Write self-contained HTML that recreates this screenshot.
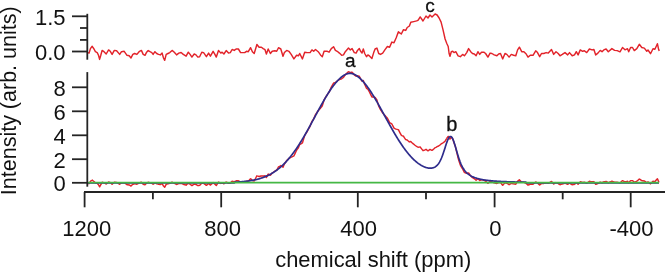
<!DOCTYPE html><html><head><meta charset="utf-8"><style>html,body{margin:0;padding:0;background:#fff;}svg{display:block;will-change:transform;}</style></head><body><svg width="665" height="273" viewBox="0 0 665 273">
<path d="M87.3,52.60 89.1,53.10 90.4,48.60 92.2,46.30 94.0,49.00 95.4,51.70 97.2,52.60 98.5,55.30 99.6,59.40 100.8,55.30 102.1,50.40 104.0,51.70 106.2,54.00 108.6,49.90 110.3,51.30 112.1,54.40 114.3,50.40 116.6,50.80 119.7,54.40 121.5,51.70 124.2,51.30 127.0,55.30 129.2,55.80 131.0,58.00 132.8,54.40 134.6,53.50 136.9,54.40 139.1,51.70 141.4,50.40 143.2,54.40 145.0,55.30 146.4,52.60 148.2,50.60 150.0,51.70 151.8,52.60 153.1,54.40 154.9,51.70 156.7,53.50 158.5,54.40 160.3,54.90 162.1,53.10 163.5,58.00 164.7,60.30 166.2,54.40 168.0,53.50 169.8,52.60 172.1,50.40 174.3,52.20 176.6,54.90 178.8,53.10 181.1,52.50 183.3,54.40 186.1,56.20 188.3,52.20 190.1,54.40 191.9,57.10 194.2,54.00 196.0,54.90 197.8,57.10 199.6,56.70 201.8,52.20 203.6,52.60 205.0,54.60 206.4,56.70 208.6,53.10 210.4,56.20 213.1,51.30 214.9,54.40 216.3,57.10 218.5,50.40 220.8,53.10 222.1,52.20 223.9,54.00 226.2,50.60 228.5,53.10 230.3,52.60 232.1,49.50 234.3,50.40 236.1,49.00 238.4,49.00 240.6,52.60 242.9,52.60 244.7,52.60 246.5,51.30 248.3,51.70 250.6,47.70 252.4,51.70 254.2,53.50 256.9,44.50 259.1,47.20 261.4,47.20 263.2,48.60 265.0,49.70 266.4,54.00 268.2,49.00 270.4,53.50 272.2,51.30 274.9,50.80 276.7,51.30 278.5,47.70 280.8,49.00 283.0,56.20 284.4,52.60 286.7,50.40 288.9,51.30 291.2,54.40 293.9,58.90 296.6,55.30 298.4,55.80 299.7,53.50 302.4,58.90 304.7,52.20 307.4,52.60 310.1,52.60 311.9,49.90 313.7,51.30 315.5,49.50 318.2,51.70 320.5,54.90 322.3,56.70 324.1,51.30 325.0,51.10 327.3,51.30 329.1,52.20 331.3,48.60 333.6,46.80 335.4,50.40 337.2,51.30 339.4,53.10 341.7,55.30 343.5,54.90 345.3,51.70 348.5,48.10 350.3,49.90 352.1,48.60 354.3,52.60 356.1,53.10 357.5,50.40 359.3,48.60 360.6,51.30 362.0,53.10 363.3,49.00 364.7,53.50 366.5,56.70 367.9,54.90 369.7,56.20 371.9,58.50 373.7,52.60 375.1,49.00 376.9,48.10 378.7,53.50 380.5,54.40 382.7,53.10 385.2,49.40 387.4,46.50 389.6,47.20 391.8,42.10 394.0,42.80 396.2,37.70 398.4,31.80 401.3,34.00 403.5,29.70 405.7,30.40 407.2,27.50 409.4,26.00 410.8,22.30 413.8,21.60 416.7,20.90 418.2,20.10 420.2,16.90 423.0,21.00 426.0,16.00 428.0,18.00 430.0,15.00 432.0,17.00 435.1,14.00 437.1,15.00 439.1,18.00 441.1,22.10 443.1,30.10 445.1,39.00 446.8,43.50 448.2,46.50 449.1,53.50 450.0,56.20 451.3,51.70 452.7,51.30 454.0,52.60 455.8,51.70 458.1,55.80 460.3,56.70 462.6,54.40 464.4,55.80 466.7,52.60 468.6,48.60 470.7,51.70 472.5,53.50 474.3,54.00 476.1,55.80 477.9,51.70 479.7,54.40 481.5,52.20 483.8,52.20 485.6,53.50 487.9,57.10 490.1,53.10 491.9,53.50 494.2,54.90 496.9,55.80 498.7,54.00 500.5,53.50 502.7,58.90 505.0,53.50 506.8,54.40 509.1,57.10 511.3,54.40 513.6,55.30 515.8,55.80 517.6,49.90 519.4,47.20 521.7,51.70 523.9,51.70 526.2,54.00 528.0,57.10 530.3,55.30 533.0,55.30 535.7,50.80 537.5,52.60 539.7,56.70 541.5,53.50 543.8,53.50 546.1,52.60 548.3,53.10 551.5,49.50 553.7,54.40 556.0,51.70 558.2,53.50 560.0,55.80 562.3,54.40 565.0,52.60 567.7,54.90 569.5,52.60 572.2,55.80 574.5,54.90 576.3,51.70 578.1,54.90 580.3,49.90 582.6,51.30 584.4,50.80 586.7,52.60 589.4,49.00 592.1,49.90 593.9,49.50 595.7,54.90 597.9,53.10 600.2,50.40 602.0,51.70 603.8,49.90 606.1,49.00 608.3,51.70 611.9,48.60 614.6,50.40 617.2,50.60 620.0,51.80 622.5,47.50 625.0,49.80 627.5,48.70 628.7,51.80 630.6,47.50 632.5,47.50 634.3,50.60 636.8,48.70 639.3,44.30 641.8,47.50 644.3,48.10 646.8,51.20 648.0,50.00 650.5,53.70 653.0,48.70 654.9,49.30 657.4,43.70 658.6,49.30 659.2,51.00" fill="none" stroke="#e2232a" stroke-width="1.45" stroke-linejoin="round"/>
<path d="M87.3,183.34 88.0,183.44 89.0,183.58 89.1,183.59 90.0,181.99 90.4,181.28 91.0,180.89 92.0,180.24 92.2,180.10 93.0,180.72 94.0,181.49 95.0,182.48 95.4,182.87 96.0,183.03 97.0,183.28 97.2,183.33 98.0,184.19 98.5,184.72 99.0,185.67 99.6,186.82 100.0,186.12 100.8,184.72 101.0,184.33 102.0,182.40 102.1,182.20 103.0,182.52 104.0,182.87 105.0,183.41 106.0,183.94 106.2,184.05 107.0,183.35 108.0,182.47 108.6,181.95 109.0,182.12 110.0,182.54 110.3,182.66 111.0,183.28 112.0,184.17 112.1,184.25 113.0,183.41 114.0,182.48 114.3,182.20 115.0,182.26 116.0,182.35 116.6,182.41 117.0,182.65 118.0,183.24 119.0,183.84 119.7,184.25 120.0,184.02 121.0,183.25 121.5,182.87 122.0,182.83 123.0,182.75 124.0,182.68 124.2,182.66 125.0,183.25 126.0,183.98 127.0,184.71 128.0,184.83 129.0,184.95 129.2,184.97 130.0,185.47 131.0,186.10 132.0,185.07 132.8,184.25 133.0,184.20 134.0,183.94 134.6,183.79 135.0,183.87 136.0,184.07 136.9,184.25 137.0,184.19 138.0,183.56 139.0,182.93 139.1,182.86 140.0,182.60 141.0,182.31 141.4,182.20 142.0,182.88 143.0,184.02 143.2,184.25 144.0,184.45 145.0,184.71 146.0,183.72 146.4,183.32 147.0,182.98 148.0,182.41 148.2,182.30 149.0,182.55 150.0,182.86 151.0,183.12 151.8,183.32 152.0,183.46 153.0,184.17 153.1,184.24 154.0,183.55 154.9,182.86 155.0,182.91 156.0,183.42 156.7,183.78 157.0,183.86 158.0,184.11 158.5,184.24 159.0,184.31 160.0,184.46 160.3,184.50 161.0,184.14 162.0,183.63 162.1,183.57 163.0,185.19 163.5,186.09 164.0,186.58 164.7,187.27 165.0,186.66 166.0,184.64 166.2,184.24 167.0,184.03 168.0,183.78 169.0,183.52 169.8,183.32 170.0,183.22 171.0,182.73 172.0,182.24 172.1,182.19 173.0,182.56 174.0,182.98 174.3,183.11 175.0,183.53 176.0,184.13 176.6,184.49 177.0,184.32 178.0,183.90 178.8,183.57 179.0,183.54 180.0,183.41 181.0,183.27 181.1,183.26 182.0,183.66 183.0,184.10 183.3,184.23 184.0,184.46 185.0,184.79 186.0,185.12 186.1,185.15 187.0,184.31 188.0,183.38 188.3,183.10 189.0,183.54 190.0,184.16 190.1,184.23 191.0,184.92 191.9,185.61 192.0,185.54 193.0,184.85 194.0,184.16 194.2,184.02 195.0,184.22 196.0,184.48 197.0,185.10 197.8,185.60 198.0,185.58 199.0,185.46 199.6,185.39 200.0,184.97 201.0,183.92 201.8,183.08 202.0,183.10 203.0,183.21 203.6,183.28 204.0,183.57 205.0,184.30 206.0,185.07 206.4,185.37 207.0,184.87 208.0,184.03 208.6,183.52 209.0,183.87 210.0,184.75 210.4,185.10 211.0,184.54 212.0,183.60 213.0,182.66 213.1,182.57 214.0,183.36 214.9,184.15 215.0,184.24 216.0,185.22 216.3,185.52 217.0,184.42 218.0,182.85 218.5,182.06 219.0,182.35 220.0,182.94 220.8,183.41 221.0,183.34 222.0,182.97 222.1,182.93 223.0,183.38 223.9,183.82 224.0,183.75 225.0,182.97 226.0,182.19 226.2,182.03 227.0,182.46 228.0,182.99 228.5,183.25 229.0,183.17 230.0,182.99 230.3,182.94 231.0,182.30 232.0,181.38 232.1,181.29 233.0,181.44 234.0,181.60 234.3,181.65 235.0,181.34 236.0,180.89 236.1,180.84 237.0,180.79 238.0,180.73 238.4,180.70 239.0,181.17 240.0,181.94 240.6,182.39 241.0,182.36 242.0,182.28 242.9,182.20 243.0,182.19 244.0,182.09 244.7,182.01 245.0,181.87 246.0,181.39 246.5,181.14 247.0,181.14 248.0,181.12 248.3,181.11 249.0,180.39 250.0,179.34 250.6,178.71 251.0,179.10 252.0,180.07 252.4,180.45 253.0,180.64 254.0,180.96 254.2,181.02 255.0,179.48 256.0,177.54 256.9,175.78 257.0,175.82 258.0,176.19 259.0,176.54 259.1,176.58 260.0,176.31 261.0,176.00 261.4,175.87 262.0,175.91 263.0,175.96 263.2,175.96 264.0,175.91 265.0,175.83 266.0,176.99 266.4,177.45 267.0,176.32 268.0,174.43 268.2,174.05 269.0,174.49 270.0,175.02 270.4,175.23 271.0,174.52 272.0,173.32 272.2,173.08 273.0,172.51 274.0,171.79 274.9,171.10 275.0,171.05 276.0,170.49 276.7,170.09 277.0,169.56 278.0,167.77 278.5,166.86 279.0,166.60 280.0,166.06 280.8,165.60 281.0,165.76 282.0,166.53 283.0,167.27 284.0,164.97 284.4,164.04 285.0,163.14 286.0,161.59 286.7,160.49 287.0,160.22 288.0,159.30 288.9,158.44 289.0,158.39 290.0,157.87 291.0,157.31 291.2,157.20 292.0,156.85 293.0,156.38 293.9,155.93 294.0,155.72 295.0,153.64 296.0,151.52 296.6,150.23 297.0,149.69 298.0,148.33 298.4,147.77 299.0,146.30 299.7,144.56 300.0,144.40 301.0,143.81 302.0,143.20 302.4,142.95 303.0,141.05 304.0,137.86 304.7,135.61 305.0,135.12 306.0,133.45 307.0,131.76 307.4,131.08 308.0,130.00 309.0,128.20 310.0,126.38 310.1,126.19 311.0,123.85 311.9,121.50 312.0,121.35 313.0,119.90 313.7,118.88 314.0,118.17 315.0,115.80 315.5,114.61 316.0,113.89 317.0,112.45 318.0,111.02 318.2,110.74 319.0,109.84 320.0,108.72 320.5,108.17 321.0,107.53 322.0,106.25 322.3,105.87 323.0,103.56 324.0,100.28 324.1,99.95 325.0,98.31 326.0,96.67 327.0,95.07 327.3,94.60 328.0,93.66 329.0,92.35 329.1,92.22 330.0,90.10 331.0,87.79 331.3,87.10 332.0,85.83 333.0,84.06 333.6,83.02 334.0,82.92 335.0,82.68 335.4,82.61 336.0,82.05 337.0,81.17 337.2,81.00 338.0,80.49 339.0,79.90 339.4,79.69 340.0,79.42 341.0,79.04 341.7,78.82 342.0,78.55 343.0,77.71 343.5,77.32 344.0,76.55 345.0,75.08 345.3,74.65 346.0,73.92 347.0,72.97 348.0,72.11 348.5,71.73 349.0,71.91 350.0,72.37 350.3,72.53 351.0,72.33 352.0,72.14 352.1,72.13 353.0,73.23 354.0,74.55 354.3,74.97 355.0,75.42 356.0,76.13 356.1,76.21 357.0,75.91 357.5,75.77 358.0,75.88 359.0,76.17 359.3,76.27 360.0,77.64 360.6,78.83 361.0,79.48 362.0,81.15 363.0,80.60 363.3,80.45 364.0,82.41 364.7,84.39 365.0,85.03 366.0,87.19 366.5,88.30 367.0,88.63 367.9,89.27 368.0,89.44 369.0,91.23 369.7,92.51 370.0,93.12 371.0,95.17 371.9,97.05 372.0,97.04 373.0,96.96 373.7,96.92 374.0,97.02 375.0,97.37 375.1,97.41 376.0,98.71 376.9,100.03 377.0,100.36 378.0,103.65 378.7,105.97 379.0,106.58 380.0,108.63 380.5,109.66 381.0,110.41 382.0,111.93 382.7,113.00 383.0,113.32 384.0,114.39 385.0,115.46 385.2,115.68 386.0,116.61 387.0,117.76 387.4,118.22 388.0,119.41 389.0,121.38 389.6,122.56 390.0,122.80 391.0,123.40 391.8,123.86 392.0,124.25 393.0,126.16 394.0,128.05 395.0,128.56 396.0,129.04 396.2,129.14 397.0,129.35 398.0,129.59 398.4,129.68 399.0,130.86 400.0,132.80 401.0,134.70 401.3,135.27 402.0,135.60 403.0,136.04 403.5,136.24 404.0,137.02 405.0,138.54 405.7,139.59 406.0,139.68 407.0,139.97 407.2,140.02 408.0,140.73 409.0,141.57 409.4,141.90 410.0,141.77 410.8,141.57 411.0,141.76 412.0,142.70 413.0,143.59 413.8,144.28 414.0,144.44 415.0,145.24 416.0,145.98 416.7,146.48 417.0,146.64 418.0,147.14 418.2,147.23 419.0,147.15 420.0,147.00 420.2,146.97 421.0,148.06 422.0,149.38 423.0,150.65 424.0,150.25 425.0,149.80 426.0,149.28 427.0,150.07 428.0,150.80 429.0,150.17 430.0,149.46 431.0,149.95 432.0,150.34 433.0,149.62 434.0,148.78 435.0,147.79 435.1,147.68 436.0,147.30 437.0,146.69 437.1,146.61 438.0,146.29 439.0,145.67 439.1,145.59 440.0,144.98 441.0,143.98 441.1,143.86 442.0,143.52 443.0,142.85 443.1,142.76 444.0,142.11 445.0,141.25 445.1,141.17 446.0,139.57 446.8,138.30 447.0,137.96 448.0,136.59 448.2,136.39 449.0,138.20 449.1,138.46 450.0,139.03 451.0,137.28 451.3,136.94 452.0,137.64 452.7,138.78 453.0,139.59 454.0,142.72 455.0,145.59 455.8,148.10 456.0,148.98 457.0,153.36 458.0,157.64 458.1,158.06 459.0,161.06 460.0,164.10 460.3,164.95 461.0,166.30 462.0,167.96 462.6,168.80 463.0,169.66 464.0,171.64 464.4,172.36 465.0,172.71 466.0,173.14 466.7,173.35 467.0,173.31 468.0,173.08 468.6,172.89 469.0,173.48 470.0,174.89 470.7,175.83 471.0,176.15 472.0,177.19 472.5,177.68 473.0,177.98 474.0,178.54 474.3,178.70 475.0,179.32 476.0,180.18 476.1,180.26 477.0,179.49 477.9,178.70 478.0,178.80 479.0,179.83 479.7,180.54 480.0,180.42 481.0,180.01 481.5,179.80 482.0,179.89 483.0,180.08 483.8,180.21 484.0,180.32 485.0,180.85 485.6,181.16 486.0,181.54 487.0,182.47 487.9,183.31 488.0,183.23 489.0,182.41 490.0,181.58 490.1,181.50 491.0,181.69 491.9,181.88 492.0,181.92 493.0,182.32 494.0,182.71 494.2,182.79 495.0,182.99 496.0,183.23 496.9,183.44 497.0,183.40 498.0,182.95 498.7,182.63 499.0,182.61 500.0,182.52 500.5,182.48 501.0,183.13 502.0,184.44 502.7,185.35 503.0,185.01 504.0,183.85 505.0,182.68 506.0,182.98 506.8,183.22 507.0,183.34 508.0,183.98 509.0,184.62 509.1,184.68 510.0,184.14 511.0,183.55 511.3,183.37 512.0,183.53 513.0,183.76 513.6,183.89 514.0,183.95 515.0,184.09 515.8,184.20 516.0,183.87 517.0,182.22 517.6,181.22 518.0,180.92 519.0,180.17 519.4,179.87 520.0,180.49 521.0,181.51 521.7,182.23 522.0,182.23 523.0,182.25 523.9,182.27 524.0,182.32 525.0,182.85 526.0,183.38 526.2,183.48 527.0,184.20 528.0,185.10 529.0,184.71 530.0,184.32 530.3,184.21 531.0,184.22 532.0,184.23 533.0,184.24 534.0,183.40 535.0,182.56 535.7,181.97 536.0,182.12 537.0,182.65 537.5,182.91 538.0,183.39 539.0,184.36 539.7,185.03 540.0,184.76 541.0,183.86 541.5,183.41 542.0,183.41 543.0,183.42 543.8,183.43 544.0,183.39 545.0,183.20 546.0,183.00 546.1,182.99 547.0,183.10 548.0,183.22 548.3,183.26 549.0,182.86 550.0,182.29 551.0,181.72 551.5,181.43 552.0,182.01 553.0,183.16 553.7,183.96 554.0,183.78 555.0,183.19 556.0,182.59 557.0,183.02 558.0,183.44 558.2,183.53 559.0,184.05 560.0,184.72 561.0,184.41 562.0,184.10 562.3,184.01 563.0,183.77 564.0,183.44 565.0,183.10 566.0,183.54 567.0,183.98 567.7,184.29 568.0,184.09 569.0,183.44 569.5,183.12 570.0,183.42 571.0,184.04 572.0,184.65 572.2,184.77 573.0,184.61 574.0,184.42 574.5,184.32 575.0,183.86 576.0,182.95 576.3,182.68 577.0,183.32 578.0,184.24 578.1,184.33 579.0,183.28 580.0,182.12 580.3,181.77 581.0,181.99 582.0,182.31 582.6,182.50 583.0,182.44 584.0,182.30 584.4,182.25 585.0,182.49 586.0,182.89 586.7,183.18 587.0,182.97 588.0,182.29 589.0,181.61 589.4,181.34 590.0,181.44 591.0,181.61 592.0,181.79 592.1,181.81 593.0,181.70 593.9,181.60 594.0,181.76 595.0,183.30 595.7,184.38 596.0,184.25 597.0,183.84 597.9,183.46 598.0,183.40 599.0,182.80 600.0,182.20 600.2,182.08 601.0,182.38 602.0,182.75 603.0,182.24 603.8,181.83 604.0,181.79 605.0,181.59 606.0,181.39 606.1,181.37 607.0,181.94 608.0,182.57 608.3,182.76 609.0,182.45 610.0,182.01 611.0,181.57 611.9,181.18 612.0,181.21 613.0,181.56 614.0,181.90 614.6,182.11 615.0,182.12 616.0,182.16 617.0,182.20 617.2,182.21 618.0,182.39 619.0,182.61 620.0,182.83 621.0,181.95 622.0,181.07 622.5,180.63 623.0,180.87 624.0,181.34 625.0,181.81 626.0,181.59 627.0,181.36 627.5,181.25 628.0,181.91 628.7,182.84 629.0,182.50 630.0,181.34 630.6,180.64 631.0,180.64 632.0,180.64 632.5,180.64 633.0,181.08 634.0,181.97 634.3,182.23 635.0,181.96 636.0,181.57 636.8,181.26 637.0,181.08 638.0,180.18 639.0,179.28 639.3,179.01 640.0,179.47 641.0,180.13 641.8,180.65 642.0,180.68 643.0,180.80 644.0,180.93 644.3,180.96 645.0,181.41 646.0,182.05 646.8,182.55 647.0,182.45 648.0,181.94 649.0,182.70 650.0,183.46 650.5,183.84 651.0,183.33 652.0,182.30 653.0,181.28 654.0,181.44 654.9,181.59 655.0,181.47 656.0,180.32 657.0,179.18 657.4,178.72 658.0,180.15 658.6,181.59 659.0,182.17 659.2,182.46" fill="none" stroke="#e2232a" stroke-width="1.45" stroke-linejoin="round"/>
<path d="M88.0,182.80 88.5,182.80 89.0,182.80 89.5,182.80 90.0,182.80 90.5,182.80 91.0,182.80 91.5,182.80 92.0,182.80 92.5,182.80 93.0,182.80 93.5,182.80 94.0,182.80 94.5,182.80 95.0,182.80 95.5,182.80 96.0,182.80 96.5,182.80 97.0,182.80 97.5,182.80 98.0,182.80 98.5,182.80 99.0,182.80 99.5,182.80 100.0,182.80 100.5,182.80 101.0,182.80 101.5,182.80 102.0,182.80 102.5,182.80 103.0,182.80 103.5,182.80 104.0,182.80 104.5,182.80 105.0,182.80 105.5,182.80 106.0,182.80 106.5,182.80 107.0,182.80 107.5,182.80 108.0,182.80 108.5,182.80 109.0,182.80 109.5,182.80 110.0,182.80 110.5,182.80 111.0,182.80 111.5,182.80 112.0,182.80 112.5,182.80 113.0,182.80 113.5,182.80 114.0,182.80 114.5,182.80 115.0,182.80 115.5,182.80 116.0,182.80 116.5,182.80 117.0,182.80 117.5,182.80 118.0,182.80 118.5,182.80 119.0,182.80 119.5,182.80 120.0,182.80 120.5,182.80 121.0,182.80 121.5,182.80 122.0,182.80 122.5,182.80 123.0,182.80 123.5,182.80 124.0,182.80 124.5,182.80 125.0,182.80 125.5,182.80 126.0,182.80 126.5,182.80 127.0,182.80 127.5,182.80 128.0,182.80 128.5,182.80 129.0,182.80 129.5,182.80 130.0,182.80 130.5,182.80 131.0,182.80 131.5,182.80 132.0,182.80 132.5,182.80 133.0,182.80 133.5,182.80 134.0,182.80 134.5,182.80 135.0,182.80 135.5,182.80 136.0,182.80 136.5,182.80 137.0,182.80 137.5,182.80 138.0,182.80 138.5,182.80 139.0,182.80 139.5,182.80 140.0,182.80 140.5,182.80 141.0,182.80 141.5,182.80 142.0,182.80 142.5,182.80 143.0,182.80 143.5,182.80 144.0,182.80 144.5,182.80 145.0,182.80 145.5,182.80 146.0,182.80 146.5,182.80 147.0,182.80 147.5,182.80 148.0,182.80 148.5,182.80 149.0,182.80 149.5,182.80 150.0,182.80 150.5,182.80 151.0,182.80 151.5,182.80 152.0,182.80 152.5,182.80 153.0,182.80 153.5,182.80 154.0,182.80 154.5,182.80 155.0,182.80 155.5,182.80 156.0,182.80 156.5,182.80 157.0,182.80 157.5,182.80 158.0,182.80 158.5,182.80 159.0,182.80 159.5,182.80 160.0,182.80 160.5,182.80 161.0,182.80 161.5,182.80 162.0,182.80 162.5,182.80 163.0,182.80 163.5,182.80 164.0,182.80 164.5,182.80 165.0,182.80 165.5,182.80 166.0,182.80 166.5,182.80 167.0,182.80 167.5,182.80 168.0,182.80 168.5,182.80 169.0,182.80 169.5,182.80 170.0,182.80 170.5,182.80 171.0,182.80 171.5,182.80 172.0,182.80 172.5,182.80 173.0,182.80 173.5,182.80 174.0,182.80 174.5,182.80 175.0,182.80 175.5,182.80 176.0,182.80 176.5,182.80 177.0,182.80 177.5,182.80 178.0,182.80 178.5,182.80 179.0,182.80 179.5,182.80 180.0,182.80 180.5,182.80 181.0,182.80 181.5,182.80 182.0,182.80 182.5,182.80 183.0,182.80 183.5,182.80 184.0,182.80 184.5,182.80 185.0,182.80 185.5,182.80 186.0,182.80 186.5,182.80 187.0,182.80 187.5,182.80 188.0,182.80 188.5,182.80 189.0,182.80 189.5,182.80 190.0,182.80 190.5,182.80 191.0,182.80 191.5,182.80 192.0,182.80 192.5,182.80 193.0,182.80 193.5,182.80 194.0,182.80 194.5,182.80 195.0,182.80 195.5,182.80 196.0,182.80 196.5,182.80 197.0,182.80 197.5,182.80 198.0,182.80 198.5,182.80 199.0,182.80 199.5,182.80 200.0,182.80 200.5,182.80 201.0,182.80 201.5,182.80 202.0,182.80 202.5,182.80 203.0,182.80 203.5,182.80 204.0,182.80 204.5,182.80 205.0,182.80 205.5,182.80 206.0,182.80 206.5,182.80 207.0,182.80 207.5,182.80 208.0,182.80 208.5,182.80 209.0,182.80 209.5,182.80 210.0,182.80 210.5,182.80 211.0,182.80 211.5,182.80 212.0,182.80 212.5,182.80 213.0,182.80 213.5,182.80 214.0,182.80 214.5,182.80 215.0,182.80 215.5,182.80 216.0,182.80 216.5,182.80 217.0,182.80 217.5,182.80 218.0,182.80 218.5,182.80 219.0,182.80 219.5,182.80 220.0,182.80 220.5,182.80 221.0,182.80 221.5,182.80 222.0,182.80 222.5,182.80 223.0,182.80 223.5,182.80 224.0,182.80 224.5,182.80 225.0,182.80 225.5,182.80 226.0,182.80 226.5,182.80 227.0,182.80 227.5,182.80 228.0,182.80 228.5,182.80 229.0,182.80 229.5,182.80 230.0,182.80 230.5,182.80 231.0,182.80 231.5,182.80 232.0,182.80 232.5,182.80 233.0,182.80 233.5,182.80 234.0,182.80 234.5,182.80 235.0,182.18 235.5,182.16 236.0,182.13 236.5,182.10 237.0,182.07 237.5,182.04 238.0,182.01 238.5,181.98 239.0,181.95 239.5,181.91 240.0,181.87 240.5,181.84 241.0,181.80 241.5,181.76 242.0,181.71 242.5,181.67 243.0,181.62 243.5,181.57 244.0,181.52 244.5,181.47 245.0,181.42 245.5,181.36 246.0,181.30 246.5,181.24 247.0,181.18 247.5,181.12 248.0,181.05 248.5,180.98 249.0,180.91 249.5,180.83 250.0,180.76 250.5,180.68 251.0,180.59 251.5,180.51 252.0,180.42 252.5,180.33 253.0,180.23 253.5,180.13 254.0,180.03 254.5,179.93 255.0,179.82 255.5,179.71 256.0,179.59 256.5,179.47 257.0,179.35 257.5,179.22 258.0,179.09 258.5,178.95 259.0,178.81 259.5,178.67 260.0,178.52 260.5,178.36 261.0,178.21 261.5,178.04 262.0,177.87 262.5,177.70 263.0,177.52 263.5,177.34 264.0,177.15 264.5,176.96 265.0,176.75 265.5,176.55 266.0,176.34 266.5,176.12 267.0,175.90 267.5,175.67 268.0,175.43 268.5,175.19 269.0,174.94 269.5,174.68 270.0,174.42 270.5,174.15 271.0,173.87 271.5,173.59 272.0,173.30 272.5,173.00 273.0,172.69 273.5,172.38 274.0,172.06 274.5,171.73 275.0,171.39 275.5,171.05 276.0,170.70 276.5,170.34 277.0,169.97 277.5,169.59 278.0,169.20 278.5,168.81 279.0,168.41 279.5,167.99 280.0,167.57 280.5,167.14 281.0,166.71 281.5,166.26 282.0,165.80 282.5,165.34 283.0,164.86 283.5,164.38 284.0,163.88 284.5,163.38 285.0,162.87 285.5,162.34 286.0,161.81 286.5,161.27 287.0,160.72 287.5,160.16 288.0,159.59 288.5,159.01 289.0,158.42 289.5,157.82 290.0,157.21 290.5,156.59 291.0,155.96 291.5,155.33 292.0,154.68 292.5,154.02 293.0,153.35 293.5,152.68 294.0,151.99 294.5,151.30 295.0,150.59 295.5,149.88 296.0,149.16 296.5,148.43 297.0,147.69 297.5,146.94 298.0,146.18 298.5,145.41 299.0,144.64 299.5,143.85 300.0,143.06 300.5,142.26 301.0,141.46 301.5,140.64 302.0,139.82 302.5,138.99 303.0,138.15 303.5,137.31 304.0,136.46 304.5,135.60 305.0,134.74 305.5,133.87 306.0,132.99 306.5,132.11 307.0,131.22 307.5,130.33 308.0,129.44 308.5,128.54 309.0,127.63 309.5,126.72 310.0,125.81 310.5,124.90 311.0,123.98 311.5,123.06 312.0,122.14 312.5,121.21 313.0,120.28 313.5,119.36 314.0,118.43 314.5,117.50 315.0,116.57 315.5,115.64 316.0,114.71 316.5,113.78 317.0,112.85 317.5,111.93 318.0,111.00 318.5,110.08 319.0,109.16 319.5,108.25 320.0,107.34 320.5,106.43 321.0,105.53 321.5,104.63 322.0,103.74 322.5,102.85 323.0,101.97 323.5,101.09 324.0,100.23 324.5,99.37 325.0,98.51 325.5,97.67 326.0,96.83 326.5,96.01 327.0,95.19 327.5,94.38 328.0,93.58 328.5,92.79 329.0,92.02 329.5,91.25 330.0,90.50 330.5,89.75 331.0,89.02 331.5,88.31 332.0,87.60 332.5,86.91 333.0,86.23 333.5,85.57 334.0,84.92 334.5,84.28 335.0,83.66 335.5,83.05 336.0,82.46 336.5,81.89 337.0,81.33 337.5,80.78 338.0,80.26 338.5,79.74 339.0,79.25 339.5,78.77 340.0,78.31 340.5,77.87 341.0,77.44 341.5,77.03 342.0,76.64 342.5,76.27 343.0,75.91 343.5,75.58 344.0,75.27 344.5,74.97 345.0,74.70 345.5,74.45 346.0,74.22 346.5,74.02 347.0,73.84 347.5,73.69 348.0,73.57 348.5,73.47 349.0,73.40 349.5,73.36 350.0,73.35 350.5,73.37 351.0,73.41 351.5,73.49 352.0,73.59 352.5,73.72 353.0,73.88 353.5,74.06 354.0,74.27 354.5,74.50 355.0,74.75 355.5,75.03 356.0,75.32 356.5,75.64 357.0,75.98 357.5,76.33 358.0,76.71 358.5,77.10 359.0,77.51 359.5,77.93 360.0,78.38 360.5,78.84 361.0,79.32 361.5,79.82 362.0,80.33 362.5,80.85 363.0,81.40 363.5,81.96 364.0,82.53 364.5,83.12 365.0,83.73 365.5,84.35 366.0,84.98 366.5,85.63 367.0,86.30 367.5,86.97 368.0,87.66 368.5,88.36 369.0,89.08 369.5,89.81 370.0,90.55 370.5,91.30 371.0,92.06 371.5,92.83 372.0,93.62 372.5,94.41 373.0,95.22 373.5,96.03 374.0,96.85 374.5,97.68 375.0,98.52 375.5,99.37 376.0,100.22 376.5,101.08 377.0,101.95 377.5,102.83 378.0,103.70 378.5,104.59 379.0,105.48 379.5,106.37 380.0,107.27 380.5,108.17 381.0,109.08 381.5,109.99 382.0,110.90 382.5,111.81 383.0,112.72 383.5,113.64 384.0,114.56 384.5,115.47 385.0,116.39 385.5,117.31 386.0,118.22 386.5,119.14 387.0,120.05 387.5,120.96 388.0,121.87 388.5,122.78 389.0,123.69 389.5,124.59 390.0,125.49 390.5,126.38 391.0,127.27 391.5,128.16 392.0,129.04 392.5,129.91 393.0,130.78 393.5,131.65 394.0,132.51 394.5,133.36 395.0,134.21 395.5,135.05 396.0,135.88 396.5,136.71 397.0,137.53 397.5,138.34 398.0,139.15 398.5,139.94 399.0,140.73 399.5,141.51 400.0,142.28 400.5,143.04 401.0,143.79 401.5,144.54 402.0,145.27 402.5,146.00 403.0,146.71 403.5,147.42 404.0,148.12 404.5,148.80 405.0,149.48 405.5,150.14 406.0,150.80 406.5,151.44 407.0,152.08 407.5,152.70 408.0,153.31 408.5,153.92 409.0,154.51 409.5,155.09 410.0,155.66 410.5,156.21 411.0,156.76 411.5,157.30 412.0,157.82 412.5,158.33 413.0,158.83 413.5,159.32 414.0,159.80 414.5,160.26 415.0,160.72 415.5,161.16 416.0,161.59 416.5,162.01 417.0,162.41 417.5,162.81 418.0,163.19 418.5,163.55 419.0,163.91 419.5,164.25 420.0,164.58 420.5,164.90 421.0,165.21 421.5,165.50 422.0,165.78 422.5,166.04 423.0,166.29 423.5,166.53 424.0,166.75 424.5,166.96 425.0,167.15 425.5,167.33 426.0,167.49 426.5,167.64 427.0,167.77 427.5,167.88 428.0,167.98 428.5,168.06 429.0,168.12 429.5,168.16 430.0,168.18 430.5,168.18 431.0,168.15 431.5,168.11 432.0,168.04 432.5,167.94 433.0,167.81 433.5,167.65 434.0,167.46 434.5,167.24 435.0,166.97 435.5,166.66 436.0,166.30 436.5,165.90 437.0,165.43 437.5,164.91 438.0,164.32 438.5,163.66 439.0,162.92 439.5,162.11 440.0,161.21 440.5,160.23 441.0,159.16 441.5,158.00 442.0,156.75 442.5,155.43 443.0,154.02 443.5,152.56 444.0,151.03 444.5,149.47 445.0,147.89 445.5,146.31 446.0,144.76 446.5,143.26 447.0,141.85 447.5,140.54 448.0,139.37 448.5,138.37 449.0,137.57 449.5,136.98 450.0,136.62 450.5,136.51 451.0,136.64 451.5,137.02 452.0,137.64 452.5,138.49 453.0,139.54 453.5,140.77 454.0,142.16 454.5,143.67 455.0,145.28 455.5,146.97 456.0,148.69 456.5,150.43 457.0,152.16 457.5,153.87 458.0,155.53 458.5,157.13 459.0,158.66 459.5,160.12 460.0,161.50 460.5,162.79 461.0,164.00 461.5,165.12 462.0,166.16 462.5,167.13 463.0,168.02 463.5,168.84 464.0,169.59 464.5,170.29 465.0,170.94 465.5,171.53 466.0,172.08 466.5,172.59 467.0,173.07 467.5,173.51 468.0,173.92 468.5,174.30 469.0,174.66 469.5,175.00 470.0,175.32 470.5,175.61 471.0,175.90 471.5,176.16 472.0,176.42 472.5,176.65 473.0,176.88 473.5,177.10 474.0,177.30 474.5,177.49 475.0,177.68 475.5,177.86 476.0,178.02 476.5,178.18 477.0,178.34 477.5,178.48 478.0,178.62 478.5,178.75 479.0,178.88 479.5,179.00 480.0,179.12 480.5,179.23 481.0,179.33 481.5,179.44 482.0,179.53 482.5,179.63 483.0,179.72 483.5,179.80 484.0,179.89 484.5,179.97 485.0,180.04 485.5,180.12 486.0,180.19 486.5,180.26 487.0,180.32 487.5,180.39 488.0,180.45 488.5,180.51 489.0,180.56 489.5,180.62 490.0,180.67 490.5,180.72 491.0,180.77 491.5,180.82 492.0,180.86 492.5,180.91 493.0,180.95 493.5,180.99 494.0,181.03 494.5,181.07 495.0,181.11 495.5,181.14 496.0,181.18 496.5,181.21 497.0,181.25 497.5,181.28 498.0,181.31 498.5,181.34 499.0,181.37 499.5,181.40 500.0,181.42 500.5,181.45 501.0,181.48 501.5,181.50 502.0,181.53 502.5,181.55 503.0,181.57 503.5,181.60 504.0,181.62 504.5,181.64 505.0,181.66 505.5,181.68 506.0,181.70 506.5,181.72 507.0,181.74 507.5,181.75 508.0,181.77 508.5,181.79 509.0,181.81 509.5,181.82 510.0,181.84 510.5,181.85 511.0,181.87 511.5,181.88 512.0,181.90 512.5,181.91 513.0,181.93 513.5,181.94 514.0,181.95 514.5,181.97 515.0,181.98 515.5,181.99 516.0,182.00 516.5,182.02 517.0,182.03 517.5,182.04 518.0,182.05 518.5,182.06 519.0,182.07 519.5,182.08 520.0,182.09 520.5,182.10 521.0,182.11 521.5,182.12 522.0,182.13 522.5,182.14 523.0,182.15 523.5,182.16 524.0,182.16 524.5,182.17 525.0,182.18 525.5,182.19 526.0,182.20 526.5,182.80 527.0,182.80 527.5,182.80 528.0,182.80 528.5,182.80 529.0,182.80 529.5,182.80 530.0,182.80 530.5,182.80 531.0,182.80 531.5,182.80 532.0,182.80 532.5,182.80 533.0,182.80 533.5,182.80 534.0,182.80 534.5,182.80 535.0,182.80 535.5,182.80 536.0,182.80 536.5,182.80 537.0,182.80 537.5,182.80 538.0,182.80 538.5,182.80 539.0,182.80 539.5,182.80 540.0,182.80 540.5,182.80 541.0,182.80 541.5,182.80 542.0,182.80 542.5,182.80 543.0,182.80 543.5,182.80 544.0,182.80 544.5,182.80 545.0,182.80 545.5,182.80 546.0,182.80 546.5,182.80 547.0,182.80 547.5,182.80 548.0,182.80 548.5,182.80 549.0,182.80 549.5,182.80 550.0,182.80 550.5,182.80 551.0,182.80 551.5,182.80 552.0,182.80 552.5,182.80 553.0,182.80 553.5,182.80 554.0,182.80 554.5,182.80 555.0,182.80 555.5,182.80 556.0,182.80 556.5,182.80 557.0,182.80 557.5,182.80 558.0,182.80 558.5,182.80 559.0,182.80 559.5,182.80 560.0,182.80 560.5,182.80 561.0,182.80 561.5,182.80 562.0,182.80 562.5,182.80 563.0,182.80 563.5,182.80 564.0,182.80 564.5,182.80 565.0,182.80 565.5,182.80 566.0,182.80 566.5,182.80 567.0,182.80 567.5,182.80 568.0,182.80 568.5,182.80 569.0,182.80 569.5,182.80 570.0,182.80 570.5,182.80 571.0,182.80 571.5,182.80 572.0,182.80 572.5,182.80 573.0,182.80 573.5,182.80 574.0,182.80 574.5,182.80 575.0,182.80 575.5,182.80 576.0,182.80 576.5,182.80 577.0,182.80 577.5,182.80 578.0,182.80 578.5,182.80 579.0,182.80 579.5,182.80 580.0,182.80 580.5,182.80 581.0,182.80 581.5,182.80 582.0,182.80 582.5,182.80 583.0,182.80 583.5,182.80 584.0,182.80 584.5,182.80 585.0,182.80 585.5,182.80 586.0,182.80 586.5,182.80 587.0,182.80 587.5,182.80 588.0,182.80 588.5,182.80 589.0,182.80 589.5,182.80 590.0,182.80 590.5,182.80 591.0,182.80 591.5,182.80 592.0,182.80 592.5,182.80 593.0,182.80 593.5,182.80 594.0,182.80 594.5,182.80 595.0,182.80 595.5,182.80 596.0,182.80 596.5,182.80 597.0,182.80 597.5,182.80 598.0,182.80 598.5,182.80 599.0,182.80 599.5,182.80 600.0,182.80 600.5,182.80 601.0,182.80 601.5,182.80 602.0,182.80 602.5,182.80 603.0,182.80 603.5,182.80 604.0,182.80 604.5,182.80 605.0,182.80 605.5,182.80 606.0,182.80 606.5,182.80 607.0,182.80 607.5,182.80 608.0,182.80 608.5,182.80 609.0,182.80 609.5,182.80 610.0,182.80 610.5,182.80 611.0,182.80 611.5,182.80 612.0,182.80 612.5,182.80 613.0,182.80 613.5,182.80 614.0,182.80 614.5,182.80 615.0,182.80 615.5,182.80 616.0,182.80 616.5,182.80 617.0,182.80 617.5,182.80 618.0,182.80 618.5,182.80 619.0,182.80 619.5,182.80 620.0,182.80 620.5,182.80 621.0,182.80 621.5,182.80 622.0,182.80 622.5,182.80 623.0,182.80 623.5,182.80 624.0,182.80 624.5,182.80 625.0,182.80 625.5,182.80 626.0,182.80 626.5,182.80 627.0,182.80 627.5,182.80 628.0,182.80 628.5,182.80 629.0,182.80 629.5,182.80 630.0,182.80 630.5,182.80 631.0,182.80 631.5,182.80 632.0,182.80 632.5,182.80 633.0,182.80 633.5,182.80 634.0,182.80 634.5,182.80 635.0,182.80 635.5,182.80 636.0,182.80 636.5,182.80 637.0,182.80 637.5,182.80 638.0,182.80 638.5,182.80 639.0,182.80 639.5,182.80 640.0,182.80 640.5,182.80 641.0,182.80 641.5,182.80 642.0,182.80 642.5,182.80 643.0,182.80 643.5,182.80 644.0,182.80 644.5,182.80 645.0,182.80 645.5,182.80 646.0,182.80 646.5,182.80 647.0,182.80 647.5,182.80 648.0,182.80 648.5,182.80 649.0,182.80 649.5,182.80 650.0,182.80 650.5,182.80 651.0,182.80 651.5,182.80 652.0,182.80 652.5,182.80 653.0,182.80 653.5,182.80 654.0,182.80 654.5,182.80 655.0,182.80 655.5,182.80 656.0,182.80 656.5,182.80 657.0,182.80 657.5,182.80 658.0,182.80 658.5,182.80 659.0,182.80" fill="none" stroke="#2e2c8c" stroke-width="1.7" stroke-linejoin="round"/>
<line x1="87.5" y1="182.7" x2="659" y2="182.7" stroke="#45b845" stroke-width="1.7"/>
<g stroke="#242424" stroke-width="1.8" fill="none">
<line x1="87.3" y1="13.8" x2="87.3" y2="59.7"/>
<line x1="72" y1="16.3" x2="87.3" y2="16.3"/>
<line x1="72" y1="51.5" x2="87.3" y2="51.5"/>
<line x1="80" y1="28.0" x2="87.3" y2="28.0"/>
<line x1="80" y1="39.9" x2="87.3" y2="39.9"/>
<line x1="87.3" y1="72.1" x2="87.3" y2="186.7"/>
<line x1="72" y1="87.3" x2="87.3" y2="87.3"/>
<line x1="72" y1="111.3" x2="87.3" y2="111.3"/>
<line x1="72" y1="135.3" x2="87.3" y2="135.3"/>
<line x1="72" y1="159.2" x2="87.3" y2="159.2"/>
<line x1="72" y1="182.8" x2="87.3" y2="182.8"/>
<line x1="84" y1="192" x2="665" y2="192"/>
<line x1="84.6" y1="192" x2="84.6" y2="207.3"/>
<line x1="221.2" y1="192" x2="221.2" y2="207.3"/>
<line x1="357.8" y1="192" x2="357.8" y2="207.3"/>
<line x1="494.6" y1="192" x2="494.6" y2="207.3"/>
<line x1="630.7" y1="192" x2="630.7" y2="207.3"/>
<line x1="152.9" y1="192" x2="152.9" y2="199.3"/>
<line x1="289.5" y1="192" x2="289.5" y2="199.3"/>
<line x1="426.0" y1="192" x2="426.0" y2="199.3"/>
<line x1="562.7" y1="192" x2="562.7" y2="199.3"/>
</g>
<g font-family="Liberation Sans, sans-serif" font-size="22" fill="#111">
<text x="65.5" y="24.7" text-anchor="end">1.5</text>
<text x="65.5" y="59.9" text-anchor="end">0.0</text>
<text x="65.7" y="95.7" text-anchor="end">8</text>
<text x="65.7" y="119.7" text-anchor="end">6</text>
<text x="65.7" y="143.7" text-anchor="end">4</text>
<text x="65.7" y="167.6" text-anchor="end">2</text>
<text x="65.7" y="191.2" text-anchor="end">0</text>
<text x="86.7" y="236.3" text-anchor="middle">1200</text>
<text x="222.6" y="236.3" text-anchor="middle">800</text>
<text x="358.6" y="236.3" text-anchor="middle">400</text>
<text x="495.4" y="236.3" text-anchor="middle">0</text>
<text x="631.4" y="236.3" text-anchor="middle">-400</text>
<text x="0" y="0" text-anchor="middle" font-size="21.6" transform="translate(373.2,267.1) scale(1.015,1)">chemical shift (ppm)</text>
<text transform="translate(15.5,100.8) rotate(-90)" text-anchor="middle" font-size="21.5">Intensity (arb. units)</text>
</g>
<g font-family="Liberation Sans, sans-serif" font-size="19" fill="#111" stroke="#111" stroke-width="0.3">
<text x="350.3" y="67.0" text-anchor="middle">a</text>
<text x="451.8" y="130.8" text-anchor="middle" font-size="20">b</text>
<text x="429.9" y="11.6" text-anchor="middle">c</text>
</g>
</svg></body></html>
